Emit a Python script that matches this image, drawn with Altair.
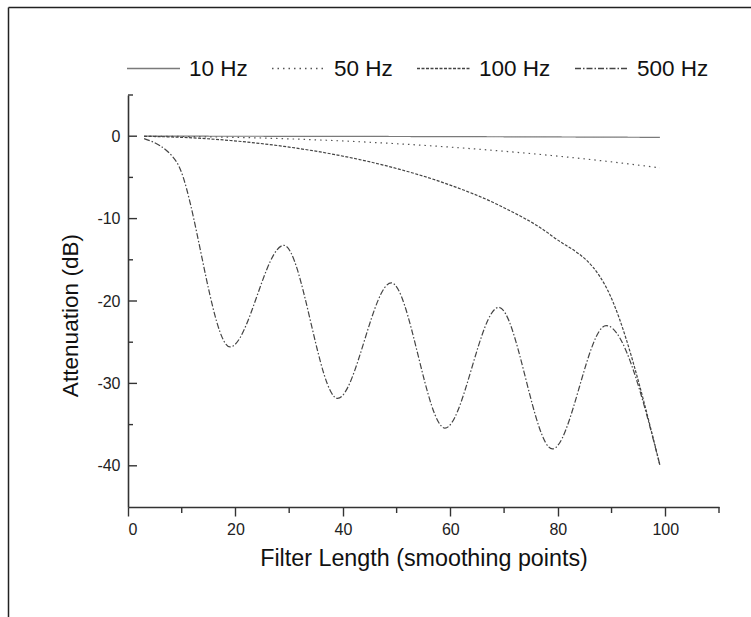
import altair as alt
import pandas as pd

# Filter length (smoothing points) at which the attenuation is plotted
points = [3, 9, 19, 29, 39, 49, 59, 69, 79, 89, 99]

att_10 = [-0.000, -0.001, -0.005, -0.012, -0.022, -0.034, -0.050,
          -0.068, -0.090, -0.114, -0.141]
att_50 = [-0.003, -0.029, -0.129, -0.302, -0.550, -0.875, -1.281,
          -1.772, -2.356, -3.040, -3.836]
att_100 = [-0.011, -0.115, -0.521, -1.235, -2.292, -3.750, -5.711,
           -8.367, -12.146, -18.332, -39.912]
att_500 = [-0.288, -3.079, -25.575, -13.242, -31.821, -17.798, -35.417,
           -20.771, -37.953, -22.982, -39.913]

series = ["10 Hz", "50 Hz", "100 Hz", "500 Hz"]
y_major = [0, -10, -20, -30, -40]
y_minor = [5, -5, -15, -25, -35]
x_major = [0, 20, 40, 60, 80, 100]
x_minor = [10, 30, 50, 70, 90, 110]

rows = []
for name, vals in zip(series, [att_10, att_50, att_100, att_500]):
    for n, v in zip(points, vals):
        rows.append({"N": n, "dB": v, "series": name, "order": series.index(name)})
df = pd.DataFrame(rows)

FONT = "Liberation Sans"
W, H = 591, 412

xscale = alt.Scale(domain=[0, 110], nice=False, zero=False)
yscale = alt.Scale(domain=[-45, 5], nice=False, zero=False)

legend = alt.Legend(
    title=None, orient="none", legendX=-2, legendY=-54, direction="horizontal",
    symbolType="stroke", symbolSize=2809, symbolStrokeWidth=1.4,
    labelFontSize=22.5, labelFont=FONT, labelColor="#111", labelOffset=8,
    columnPadding=21, padding=0,
)

lines = alt.Chart(df).mark_line(strokeWidth=1.2, clip=False, interpolate="monotone").encode(
    x=alt.X("N:Q", scale=xscale,
            axis=alt.Axis(values=x_major, title="Filter Length (smoothing points)",
                          tickSize=9, tickColor="#333", tickWidth=1.4,
                          domainColor="#333", domainWidth=1.6, grid=False,
                          labelFontSize=16, labelFont=FONT, labelColor="#222",
                          labelExpr="'' + datum.value",
                          labelPadding=5, titleFontSize=23.3, titleFont=FONT,
                          titleFontWeight="normal", titleColor="#111", titlePadding=10)),
    y=alt.Y("dB:Q", scale=yscale,
            axis=alt.Axis(values=y_major, title="Attenuation (dB)", ticks=False,
                          domainColor="#333", domainWidth=1.6, grid=False,
                          labelFontSize=16, labelFont=FONT, labelColor="#222",
                          labelExpr="'' + datum.value",
                          labelPadding=8, titleFontSize=22.6, titleFont=FONT,
                          titleFontWeight="normal", titleColor="#111",
                          titleX=-51, titleY=220, titleBaseline="alphabetic")),
    color=alt.Color("series:N", sort=series,
                    scale=alt.Scale(domain=series,
                                    range=["#7a7a7a", "#555555", "#444444", "#444444"]),
                    legend=legend),
    strokeDash=alt.StrokeDash("series:N", sort=series,
                              scale=alt.Scale(domain=series,
                                              range=[[1, 0], [1.5, 4], [3, 1.5], [6, 2, 1.5, 2]]),
                              legend=legend),
    detail="series:N",
    order="order:Q",
)

ymaj_df = pd.DataFrame({"v": y_major})
ymin_df = pd.DataFrame({"v": y_minor})
xmin_df = pd.DataFrame({"v": x_minor})

ytick_major = alt.Chart(ymaj_df).mark_rule(color="#333", strokeWidth=1.4).encode(
    y=alt.Y("v:Q", scale=yscale), x=alt.value(0), x2=alt.value(9))
ytick_minor = alt.Chart(ymin_df).mark_rule(color="#333", strokeWidth=1.4).encode(
    y=alt.Y("v:Q", scale=yscale), x=alt.value(0), x2=alt.value(5))
xtick_minor = alt.Chart(xmin_df).mark_rule(color="#333", strokeWidth=1.4).encode(
    x=alt.X("v:Q", scale=xscale), y=alt.value(H), y2=alt.value(H + 6))

frame_df = pd.DataFrame({"k": [0]})
frame_left = alt.Chart(frame_df).mark_rule(color="#222", strokeWidth=1.5).encode(
    x=alt.value(-119.5), y=alt.value(-87.5), y2=alt.value(617 - 95))
frame_top = alt.Chart(frame_df).mark_rule(color="#222", strokeWidth=1.5).encode(
    x=alt.value(-119.5), x2=alt.value(751 - 128), y=alt.value(-87.5))

chart = alt.layer(lines, ytick_major, ytick_minor, xtick_minor,
                  frame_left, frame_top).properties(
    width=W, height=H,
    autosize=alt.AutoSizeParams(type="none"),
    padding={"left": 128, "top": 95, "right": 32, "bottom": 110},
    background="white",
).configure_view(stroke=None)

chart.save("out.html", embed_options={"renderer": "svg", "actions": False})
